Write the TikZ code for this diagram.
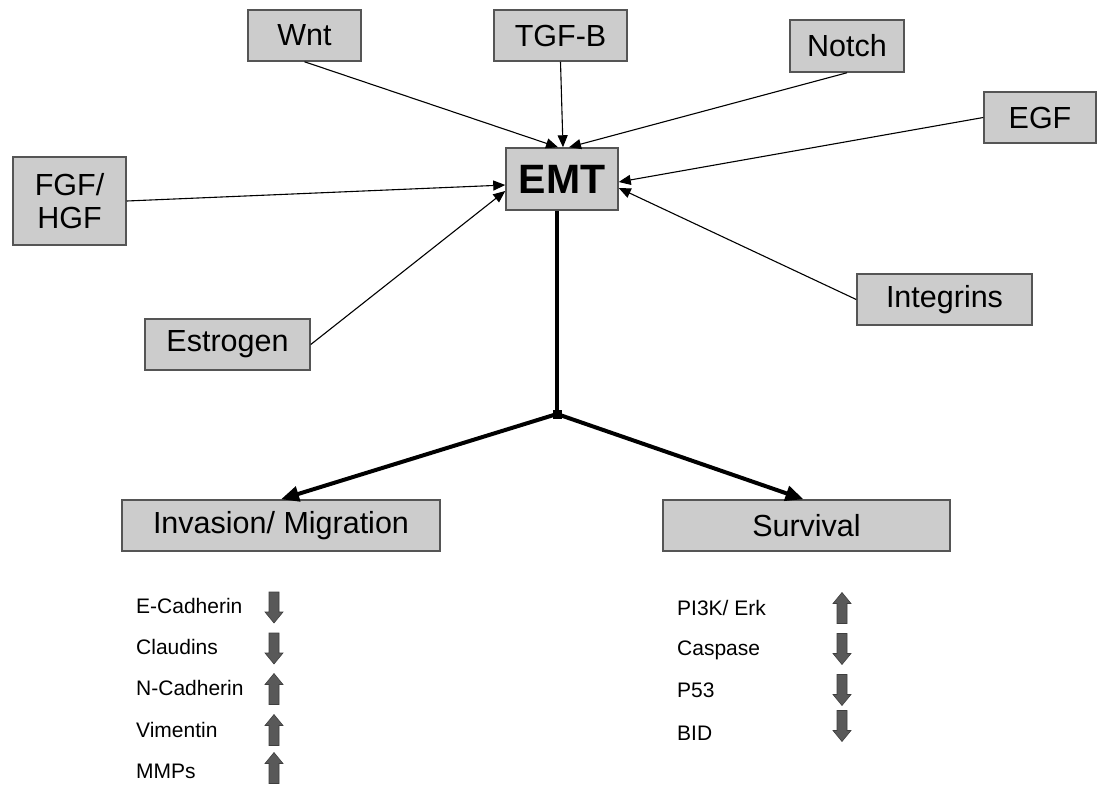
\documentclass[tikz,border=0pt]{standalone}
\usepackage{fontspec}
\setmainfont{Liberation Sans}
\usetikzlibrary{arrows.meta,calc}
\definecolor{boxfill}{HTML}{CCCCCC}
\definecolor{boxline}{HTML}{555555}
\definecolor{blk}{HTML}{595959}
\begin{document}
\begin{tikzpicture}[x=1pt,y=-1pt,
  box/.style={draw=boxline, line width=1.5pt, fill=boxfill, inner sep=0pt,
    font=\fontsize{30.5}{33}\selectfont, align=center},
  feed/.style={line width=1.1pt, -{Triangle[length=12pt,width=10pt]}},
  mainarr/.style={line width=4pt, -{Triangle[length=18pt,width=15pt]}},
  item/.style={anchor=west, inner sep=0pt, font=\fontsize{21}{24}\selectfont,
    text height=15pt, text depth=0pt},
  upa/.pic={\filldraw[fill=blk, draw=blk!70!black, line width=0.6pt]
    (-5,15.5)--(-5,-4.5)--(-9,-4.5)--(0,-15.5)--(9,-4.5)--(5,-4.5)--(5,15.5)--cycle;},
  downa/.pic={\filldraw[fill=blk, draw=blk!70!black, line width=0.6pt]
    (-5,-15.5)--(-5,4.5)--(-9,4.5)--(0,15.5)--(9,4.5)--(5,4.5)--(5,-15.5)--cycle;}
]
\useasboundingbox (0,0) rectangle (1098,788);

% boxes
\node[box, minimum width=113pt, minimum height=51pt] (wnt) at (304.5,35.5) {Wnt};
\node[box, minimum width=133pt, minimum height=51pt] (tgf) at (560.5,35.5) {TGF-B};
\node[box, minimum width=114pt, minimum height=52pt] (notch) at (847,46) {Notch};
\node[box, minimum width=112pt, minimum height=51pt] (egf) at (1040,117.5) {EGF};
\node[box, minimum width=113pt, minimum height=88pt] (fgf) at (69.5,201) {FGF/\\HGF};
\node[box, minimum width=112pt, minimum height=62pt, font=\fontsize{41}{44}\selectfont\bfseries] (emt) at (562,179) {EMT};
\node[box, minimum width=175pt, minimum height=51pt] (integ) at (944.5,299.5) {Integrins};
\node[box, minimum width=165pt, minimum height=51pt] (estr) at (227.5,344.5) {Estrogen};
\node[box, minimum width=318pt, minimum height=51pt] (inv) at (281,525.5) {Invasion/ Migration};
\node[box, minimum width=287pt, minimum height=51pt] (surv) at (806.5,525.5) {Survival};

% feeding arrows
\draw[feed] (wnt.south) -- ($(emt.north)+(-4,0)$);
\draw[feed] (tgf.south) -- ($(emt.north)+(1,0)$);
\draw[feed] (notch.south) -- ($(emt.north)+(7,0)$);
\draw[feed] (egf.west) -- ($(emt.east)+(0,3)$);
\draw[feed] (integ.west) -- ($(emt.east)+(0,9)$);
\draw[feed] (fgf.east) -- ($(emt.west)+(0,6)$);
\draw[feed] (estr.east) -- ($(emt.west)+(0,12)$);

% main branching
\node[fill=black, minimum size=9pt, inner sep=0pt] (j) at (557,414) {};
\draw[line width=4pt] (emt.south -| j) -- (j.center);
\draw[mainarr] (j.center) -- (inv.north);
\draw[mainarr] (j.center) -- ($(surv.north)+(-3,0)$);

% left list
\node[item] (l1) at (136,606) {E-Cadherin};
\node[item] (l2) at (136,647) {Claudins};
\node[item] (l3) at (136,688) {N-Cadherin};
\node[item] (l4) at (136,730) {Vimentin};
\node[item] (l5) at (136,771) {MMPs};
\pic (la1) at (274,607.5) {downa};
\pic (la2) at (274,648.5) {downa};
\pic (la3) at (274,689) {upa};
\pic (la4) at (274,730) {upa};
\pic (la5) at (274,768) {upa};

% right list
\node[item] (r1) at (677,608) {PI3K/ Erk};
\node[item] (r2) at (677,648) {Caspase};
\node[item] (r3) at (677,690) {P53};
\node[item] (r4) at (677,733) {BID};
\pic (ra1) at (842,608) {upa};
\pic (ra2) at (842,649) {downa};
\pic (ra3) at (842,690) {downa};
\pic (ra4) at (842,726) {downa};
\end{tikzpicture}
\end{document}
